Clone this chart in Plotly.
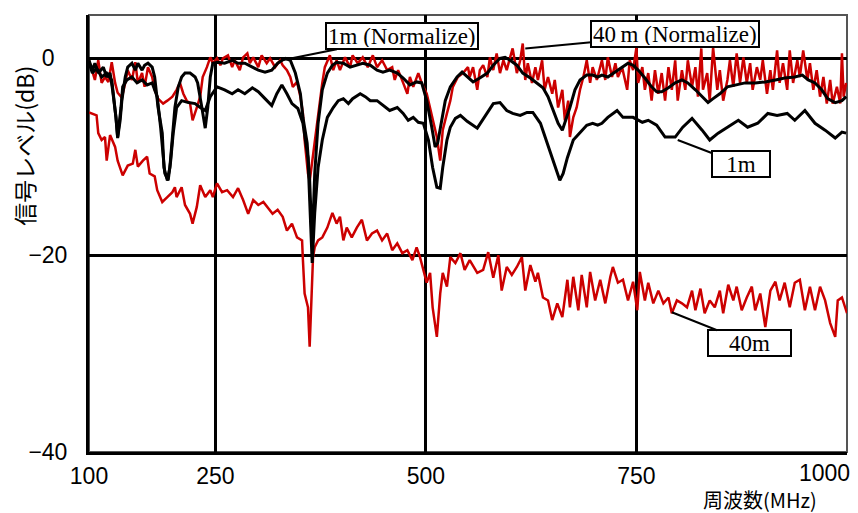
import plotly.graph_objects as go

# ---------------- data ----------------
# 40m raw (red, lower)
F_40M = [100,109,111,115,119,121,125,131,134,140,
         146,152,155,158,164,169,172,178,181,187,
         193,199,202,204,210,214,220,223,228,232,
         238,244,247,252,258,264,271,277,283,289,
         295,301,307,313,318,324,330,335,341,347,
         353,354,356,360,362,366,368,372,377,383,
         389,394,398,402,406,412,418,424,430,436,
         442,448,454,460,466,472,478,484,489,493,
         497,501,505,508,513,517,520,525,529,535,
         541,546,552,561,568,574,580,586,590,596,
         602,608,614,618,624,630,633,639,645,650,
         656,662,668,671,675,681,685,691,695,701,
         707,713,719,722,728,734,740,746,751,754,
         760,764,770,776,782,788,792,798,804,810,
         816,820,826,831,837,843,849,853,859,865,
         869,875,881,887,891,897,903,909,915,920,
         926,932,938,944,950,956,962,968,974,980,
         986,989,994,1000]
DB_40M = [-5.5,-5.8,-7.6,-8.3,-8.0,-10.4,-7.8,-9.0,-10.4,-11.9,
          -10.9,-10.7,-9.3,-11.0,-10.4,-10.0,-11.7,-12.0,-13.4,-14.6,
          -14.1,-13.6,-13.1,-14.1,-13.1,-14.9,-15.8,-16.8,-15.1,-12.9,
          -14.1,-13.4,-14.1,-12.7,-13.6,-13.4,-14.1,-13.2,-14.4,-15.8,
          -14.4,-14.9,-14.6,-15.2,-15.8,-15.4,-16.1,-17.5,-16.8,-18.2,
          -18.5,-20.5,-23.9,-25.3,-29.3,-20.2,-19.2,-18.5,-18.2,-17.2,
          -15.7,-16.8,-16.1,-18.5,-17.2,-18.2,-17.2,-16.4,-18.5,-17.8,
          -17.5,-18.5,-17.8,-19.5,-18.8,-19.8,-19.5,-20.5,-19.2,-20.2,
          -21.5,-22.8,-21.8,-25.3,-28.3,-23.9,-21.8,-23.2,-20.2,-20.8,
          -19.8,-21.5,-20.5,-21.8,-21.5,-19.7,-22.3,-20.0,-23.6,-21.2,
          -22.0,-21.2,-20.2,-23.6,-21.0,-22.7,-21.8,-24.3,-24.6,-26.6,
          -24.9,-26.3,-22.5,-25.3,-22.2,-25.6,-22.0,-25.3,-21.7,-24.6,
          -22.5,-24.9,-22.2,-21.2,-22.8,-22.5,-24.6,-22.7,-25.6,-21.7,
          -24.6,-22.8,-24.9,-23.6,-24.9,-24.3,-25.9,-24.6,-24.9,-25.3,
          -23.6,-25.6,-23.4,-25.9,-24.6,-25.3,-23.6,-25.9,-23.0,-24.6,
          -23.2,-25.6,-24.3,-23.2,-25.6,-23.9,-27.3,-23.6,-22.7,-24.6,
          -22.8,-25.3,-22.8,-22.5,-25.6,-23.2,-25.6,-23.2,-24.6,-26.9,
          -28.3,-24.6,-24.3,-25.9]

# 40m normalized (red, upper)
F_40M_N = [100,104,107,111,115,119,123,127,131,134,
           139,143,146,151,155,158,163,166,170,175,
           178,182,188,193,199,204,208,212,216,220,
           223,228,232,235,240,244,247,252,256,259,
           265,270,273,279,283,288,291,295,301,305,
           311,315,321,327,330,335,339,342,347,351,
           354,356,360,362,365,368,372,377,380,386,
           390,394,398,404,410,413,419,425,431,437,
           442,448,454,460,463,467,473,478,481,485,
           491,495,501,505,508,513,517,520,525,529,
           532,538,544,550,552,556,561,564,568,573,
           576,580,584,588,592,596,600,603,608,612,
           615,618,621,626,630,633,638,641,645,650,
           653,657,662,665,669,671,675,679,683,687,
           691,695,698,703,709,713,716,721,725,728,
           733,739,742,746,750,752,757,760,764,768,
           772,776,780,784,788,792,796,799,804,808,
           811,816,820,823,827,829,834,837,841,846,
           849,853,858,861,865,869,873,877,881,885,
           888,893,897,900,905,909,912,917,920,924,
           929,932,936,941,944,948,953,956,960,964,
           968,972,976,980,983,988,992,994,996,999]
DB_40M_N = [-0.2,-1.5,-2.2,-0.2,-2.5,-1.9,-2.4,-0.4,-2.5,-3.5,
            -4.0,-2.5,-1.2,-2.2,-0.4,-2.5,-1.5,-2.9,-0.9,-1.9,
            -3.2,-4.1,-4.6,-4.3,-3.9,-3.2,-2.5,-3.6,-4.3,-4.6,
            -6.3,-5.0,-3.9,-1.9,-0.9,0.1,-0.5,0.0,-0.7,0.0,
            0.3,-0.9,-0.2,-1.2,0.1,0.5,-0.5,0.1,-0.9,0.3,
            -0.5,0.0,-0.9,-0.2,-0.7,-1.2,-1.9,-2.9,-2.4,-3.9,
            -5.6,-8.3,-11.7,-12.5,-10.5,-8.3,-5.6,-2.5,-0.9,0.3,
            -1.2,-0.2,-1.2,0.1,-0.9,0.3,-0.5,0.1,-0.9,0.3,
            -0.9,-0.2,-1.2,-0.9,-2.2,-1.2,-2.5,-3.6,-1.9,-2.9,
            -1.5,-2.5,-3.6,-5.0,-6.3,-8.0,-10.4,-7.3,-5.6,-4.3,
            -2.9,-1.9,-1.5,-0.9,-1.9,-0.9,-3.2,-1.2,-0.7,-1.9,
            0.1,-1.2,0.5,-1.5,-0.2,-1.2,0.1,1.0,-1.5,-0.2,
            1.5,-2.2,-0.5,-2.5,-0.9,-2.2,-0.2,-3.2,-1.9,-3.6,
            -2.2,-5.0,-3.2,-6.3,-4.3,-8.0,-6.0,-5.0,-3.2,-1.9,
            -0.2,-2.5,-0.9,-2.2,-0.2,-2.2,0.1,-1.9,-0.5,-1.9,
            -0.9,-3.2,-0.2,-1.2,1.1,-2.5,-0.9,-3.2,-1.5,-4.3,
            -1.2,-3.6,-1.5,-4.3,-0.9,-3.2,-0.2,-4.3,-1.2,-3.2,
            -0.2,-2.9,-0.9,-3.9,1.0,-3.2,-1.5,-4.3,1.1,-3.2,
            -1.2,-4.3,-2.2,-0.2,-2.9,0.5,-2.5,0.1,-2.5,-0.5,
            -3.2,-0.9,-2.2,-0.2,-3.6,-1.2,-3.2,0.8,-2.5,-0.5,
            -3.2,0.8,-2.5,-0.2,-1.9,0.8,-2.2,-0.5,-3.2,-1.2,
            -3.9,-1.9,-4.6,-2.2,-4.6,-2.9,-4.6,0.5,-3.9,-2.5]

# 1m normalized (black, upper)
F_1M_N = [100,104,107,111,117,121,125,128,132,134,
          137,139,143,146,151,155,158,163,166,170,
          175,178,182,187,189,193,196,199,202,206,
          210,214,220,226,229,234,238,241,244,247,
          253,261,270,277,285,294,301,309,317,324,
          333,339,345,351,354,359,362,365,368,372,
          377,383,389,394,402,410,418,425,434,442,
          449,457,466,473,481,489,495,501,507,511,
          514,519,523,529,537,543,550,556,564,573,
          580,588,594,600,608,615,624,632,639,645,
          651,657,662,665,671,677,683,691,698,704,
          709,716,725,733,740,746,752,760,768,774,
          780,788,796,804,811,820,828,835,841,849,
          858,867,879,891,903,915,926,938,947,954,
          962,970,977,986,994,999]
DB_1M_N = [-0.2,-1.2,-0.5,-1.5,-0.9,-1.9,-1.5,-3.2,-6.0,-8.1,
           -6.3,-4.3,-1.9,-0.9,-0.5,-1.2,-0.5,-1.2,-0.7,-0.5,
           -0.9,-1.9,-5.0,-7.6,-11.1,-12.4,-11.1,-8.3,-5.0,-2.9,
           -1.9,-1.5,-1.5,-1.9,-2.5,-5.0,-7.1,-5.0,-1.9,-0.5,
           -0.4,-0.5,-0.2,-0.5,-0.5,-0.9,-1.2,-1.4,-1.2,-0.5,
           0.0,-0.2,-1.5,-3.6,-6.0,-8.6,-12.4,-19.0,-11.7,-6.6,
           -3.2,-1.5,-0.7,-0.4,-0.5,-0.9,-0.7,-0.5,-0.7,-1.2,
           -1.4,-1.2,-1.5,-2.0,-2.7,-2.4,-2.5,-4.3,-7.0,-9.0,
           -8.6,-6.0,-4.3,-2.9,-1.9,-1.4,-1.9,-2.4,-2.0,-1.5,
           -0.7,0.0,0.1,-0.2,-0.7,-1.5,-2.0,-2.5,-3.0,-3.9,
           -5.3,-6.6,-7.3,-6.6,-5.0,-3.2,-2.2,-1.7,-1.7,-1.9,
           -1.7,-1.9,-1.4,-0.9,-0.5,-0.7,-1.2,-2.0,-2.9,-3.4,
           -3.4,-3.0,-2.5,-2.2,-2.5,-3.2,-3.9,-4.5,-4.1,-3.6,
           -2.9,-2.7,-2.5,-2.5,-2.4,-2.2,-2.0,-1.9,-1.7,-2.2,
           -2.5,-3.2,-4.1,-4.5,-4.3,-3.9]

# 1m raw (black, lower)
F_1M = [100,104,109,115,121,127,132,134,138,140,
        145,151,157,163,169,175,181,185,190,194,
        197,200,204,210,218,226,232,238,244,252,
        261,270,277,285,294,301,309,317,323,329,
        335,341,348,354,360,362,365,368,372,377,
        383,390,396,402,408,413,422,428,434,442,
        449,457,466,473,479,485,491,497,503,508,
        513,517,520,525,529,535,541,549,561,573,
        580,588,596,603,612,620,627,636,644,651,
        659,663,668,675,683,691,698,704,709,716,
        727,734,746,757,764,774,784,796,805,816,
        828,837,847,858,871,882,894,906,917,929,
        938,950,962,974,986,994,999]
DB_1M = [-0.5,-1.5,-1.0,-1.9,-1.5,-2.2,-6.0,-8.0,-5.0,-2.9,
         -2.2,-1.9,-2.5,-2.2,-2.7,-2.5,-3.9,-7.0,-11.7,-12.4,
         -10.4,-7.6,-5.0,-4.3,-4.5,-4.6,-5.0,-5.3,-3.9,-2.9,
         -3.2,-3.6,-3.2,-3.6,-3.0,-3.4,-4.1,-4.8,-3.6,-2.7,
         -3.6,-4.6,-5.1,-6.6,-10.1,-15.0,-20.8,-15.7,-11.1,-8.3,
         -6.0,-5.0,-4.3,-4.1,-4.6,-4.1,-3.6,-3.9,-4.3,-4.3,
         -4.8,-5.3,-5.0,-5.6,-6.3,-6.0,-6.5,-6.6,-8.3,-11.1,
         -13.1,-13.2,-11.1,-8.3,-7.0,-6.1,-5.8,-6.4,-7.1,-5.6,
         -4.6,-4.5,-5.3,-5.6,-5.8,-5.5,-5.5,-6.6,-8.6,-10.4,
         -12.4,-11.7,-10.1,-8.3,-7.6,-6.8,-6.6,-6.8,-6.6,-6.0,
         -5.3,-6.0,-6.0,-6.5,-6.3,-6.8,-8.0,-8.0,-7.0,-6.1,
         -7.3,-8.3,-7.6,-7.0,-6.3,-7.0,-6.6,-5.6,-5.8,-5.6,
         -6.3,-5.3,-6.6,-7.3,-8.1,-7.5,-7.6]

X_TICKS = [100, 250, 500, 750, 1000]
X_TICK_TEXT = ["100", "250", "500", "750", ""]
X_LAST_LABEL = "1000"          # drawn right-aligned at the axis end
Y_TICKS = [0, -20, -40]
Y_TICK_TEXT = ["0\u2007", "\u221220", "\u221240"]

# label annotations: text, anchor point (MHz, dB)
LABELS = ["1m (Normalize)", "40\u2009m (Normalize)", "1m", "40m"]
LABEL_F = [329, 618, 799, 792]
LABEL_DB = [-0.2, 1.0, -8.3, -25.8]

# ---------------- figure ----------------
RED = "#cc0000"
NARROW = "Liberation Sans Narrow, Liberation Sans, Arial, sans-serif"
CJK = "Noto Sans CJK JP, sans-serif"
SERIF = "Liberation Serif, Times New Roman, serif"

fig = go.Figure()
fig.add_trace(go.Scatter(x=F_40M, y=DB_40M, mode="lines",
                         line=dict(color=RED, width=2.5), name="40m"))
fig.add_trace(go.Scatter(x=F_40M_N, y=DB_40M_N, mode="lines",
                         line=dict(color=RED, width=2.5), name="40m (Normalize)"))
fig.add_trace(go.Scatter(x=F_1M, y=DB_1M, mode="lines",
                         line=dict(color="black", width=3), name="1m"))
fig.add_trace(go.Scatter(x=F_1M_N, y=DB_1M_N, mode="lines",
                         line=dict(color="black", width=3), name="1m (Normalize)"))

fig.update_layout(
    width=858, height=513,
    margin=dict(l=89, r=11, t=15, b=61, autoexpand=False),
    plot_bgcolor="white", paper_bgcolor="white",
    showlegend=False,
)

fig.update_xaxes(
    range=[100, 1000], tickvals=X_TICKS, ticktext=X_TICK_TEXT,
    automargin=False,
    showgrid=True, gridcolor="black", gridwidth=2.5,
    showline=True, linecolor="black", linewidth=3,
    zeroline=False, ticks="", ticklabelstandoff=1,
    tickfont=dict(family=NARROW, size=23, color="black"),
)
fig.update_yaxes(
    range=[-40, 4.4], tickvals=Y_TICKS, ticktext=Y_TICK_TEXT,
    automargin=False,
    showgrid=True, gridcolor="black", gridwidth=2.5,
    showline=True, linecolor="black", linewidth=3,
    zeroline=False, ticks="", ticklabelstandoff=14,
    tickfont=dict(family=NARROW, size=23, color="black"),
)

# frame (top/right thinner gray)
fig.add_shape(type="rect", xref="paper", yref="paper", x0=0, x1=1, y0=0, y1=1,
              line=dict(color="#555555", width=2), layer="below")

# last x tick label (right-aligned so it stays inside the picture)
fig.add_annotation(text=X_LAST_LABEL, x=X_TICKS[-1], xref="x", y=-0.049, yref="paper",
                   xanchor="right", yanchor="middle", xshift=5, showarrow=False,
                   font=dict(family=NARROW, size=23, color="black"))

# axis titles
fig.add_annotation(text="信号レベル(dB)", xref="paper", yref="paper",
                   x=-0.085, y=0.70, xanchor="center", yanchor="middle",
                   textangle=-90, showarrow=False,
                   font=dict(family=CJK, size=23, color="black"))
fig.add_annotation(text="周波数(MHz)", xref="paper", yref="paper",
                   x=0.885, y=-0.108, xanchor="center", yanchor="middle",
                   showarrow=False,
                   font=dict(family=CJK, size=20, color="black"))

# series labels with leader lines
offsets = [(120, -24), (150, -14), (63, 24), (78, 31)]
widths = [None, None, 54, 79]
for txt, fx, fy, (axp, ayp), w in zip(LABELS, LABEL_F, LABEL_DB, offsets, widths):
    kw = dict(width=w) if w else {}
    fig.add_annotation(
        text=txt, x=fx, y=fy, xref="x", yref="y",
        showarrow=True, arrowhead=0, arrowwidth=2, arrowcolor="black",
        ax=axp, ay=ayp, standoff=0,
        bgcolor="white", bordercolor="black", borderwidth=2, borderpad=1,
        height=22, font=dict(family=SERIF, size=23, color="black"), **kw)

fig.write_html("out.html", config={"displayModeBar": False},
               post_script="document.body.style.margin='0px';")
